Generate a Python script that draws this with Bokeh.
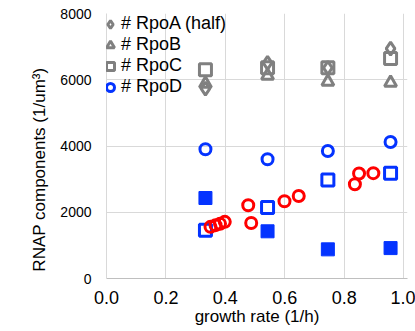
from bokeh.plotting import figure
from bokeh.models import Range1d, FixedTicker, NumeralTickFormatter, Legend, LegendItem
from bokeh.embed import file_html
from bokeh.resources import INLINE

# ---- data ----
growth = [0.333, 0.542, 0.745, 0.956]
rpoA_half = [5730, 6510, 6360, 6940]
rpoB = [5880, 6120, 5940, 5910]
rpoC = [6300, 6360, 6360, 6640]
rpoD = [3900, 3600, 3850, 4120]
blue_open_sq = [1455, 2140, 2970, 3175]
blue_filled_sq = [2430, 1425, 880, 918]

red_x = [0.350, 0.367, 0.382, 0.398, 0.477, 0.487, 0.599, 0.647, 0.836, 0.850, 0.898]
red_y = [1560, 1610, 1650, 1710, 2210, 1675, 2330, 2490, 2845, 3170, 3180]

x_ticks = [0.0, 0.2, 0.4, 0.6, 0.8, 1.0]
y_ticks = [0, 2000, 4000, 6000, 8000]

GRAY = "#808080"
BLUE = "#0433ff"
RED = "#ff0000"
FONT = "Liberation Sans"

p = figure(width=415, height=331, output_backend="svg", toolbar_location=None,
           x_range=Range1d(0, 1.013), y_range=Range1d(0, 8000),
           min_border_left=106, min_border_right=8, min_border_top=13, min_border_bottom=53)
p.outline_line_color = None
p.background_fill_color = "white"

for ax in (p.xaxis[0], p.yaxis[0]):
    ax.major_tick_line_color = None
    ax.minor_tick_line_color = None
    ax.major_tick_out = 0
    ax.major_tick_in = 0
    ax.major_label_text_font = FONT
    ax.major_label_text_color = "#000000"
    ax.axis_label_text_font = FONT
    ax.axis_label_text_font_style = "normal"
    ax.axis_label_text_color = "#000000"

p.xaxis.ticker = FixedTicker(ticks=x_ticks)
p.yaxis.ticker = FixedTicker(ticks=y_ticks)
p.xaxis.formatter = NumeralTickFormatter(format="0.0")
p.yaxis.formatter = NumeralTickFormatter(format="0")
p.xaxis.major_label_text_font_size = "18px"
p.yaxis.major_label_text_font_size = "14px"
p.xaxis.major_label_standoff = 12
p.yaxis.major_label_standoff = 15
p.xaxis.axis_line_color = "#bfbfbf"
p.yaxis.axis_line_color = "#d9d9d9"
p.xaxis.axis_label = "growth rate (1/h)"
p.yaxis.axis_label = "RNAP components (1/um³)" + "\u00a0" * 10
p.xaxis.axis_label_text_font_size = "17px"
p.yaxis.axis_label_text_font_size = "17px"
p.xaxis.axis_label_standoff = 0
p.yaxis.axis_label_standoff = 8

p.xgrid.grid_line_color = "#d9d9d9"
p.ygrid.grid_line_color = "#d9d9d9"
p.xgrid.ticker = FixedTicker(ticks=x_ticks)
p.ygrid.ticker = FixedTicker(ticks=y_ticks)

rA = p.scatter(growth, rpoA_half, marker="diamond", size=13, fill_color=None,
               line_color=GRAY, line_width=3)
rB = p.scatter(growth, rpoB, marker="triangle", size=12, fill_color=None,
               line_color=GRAY, line_width=3)
rC = p.scatter(growth, rpoC, marker="square", size=12, fill_color=None,
               line_color=GRAY, line_width=3)
rD = p.scatter(growth, rpoD, marker="circle", size=11, fill_color=None,
               line_color=BLUE, line_width=3)
p.scatter(growth, blue_open_sq, marker="square", size=12, fill_color=None,
          line_color=BLUE, line_width=3)
p.scatter(growth, blue_filled_sq, marker="square", size=13, fill_color=BLUE,
          line_color=BLUE, line_width=1)
p.scatter(red_x, red_y, marker="circle", size=11, fill_color=None,
          line_color=RED, line_width=3)

legend = Legend(items=[
    LegendItem(label="# RpoA (half)", renderers=[rA]),
    LegendItem(label="# RpoB", renderers=[rB]),
    LegendItem(label="# RpoC", renderers=[rC]),
    LegendItem(label="# RpoD", renderers=[rD]),
], location=(-7, 181))
legend.margin = 0
legend.padding = 0
legend.spacing = 0
legend.glyph_width = 22
legend.glyph_height = 20
legend.label_height = 20
legend.label_standoff = -4
legend.label_text_font = FONT
legend.label_text_font_size = "18px"
legend.label_text_color = "#000000"
legend.border_line_color = None
legend.background_fill_alpha = 0.0
p.add_layout(legend, "center")

open("out.html", "w").write(file_html(p, INLINE))
